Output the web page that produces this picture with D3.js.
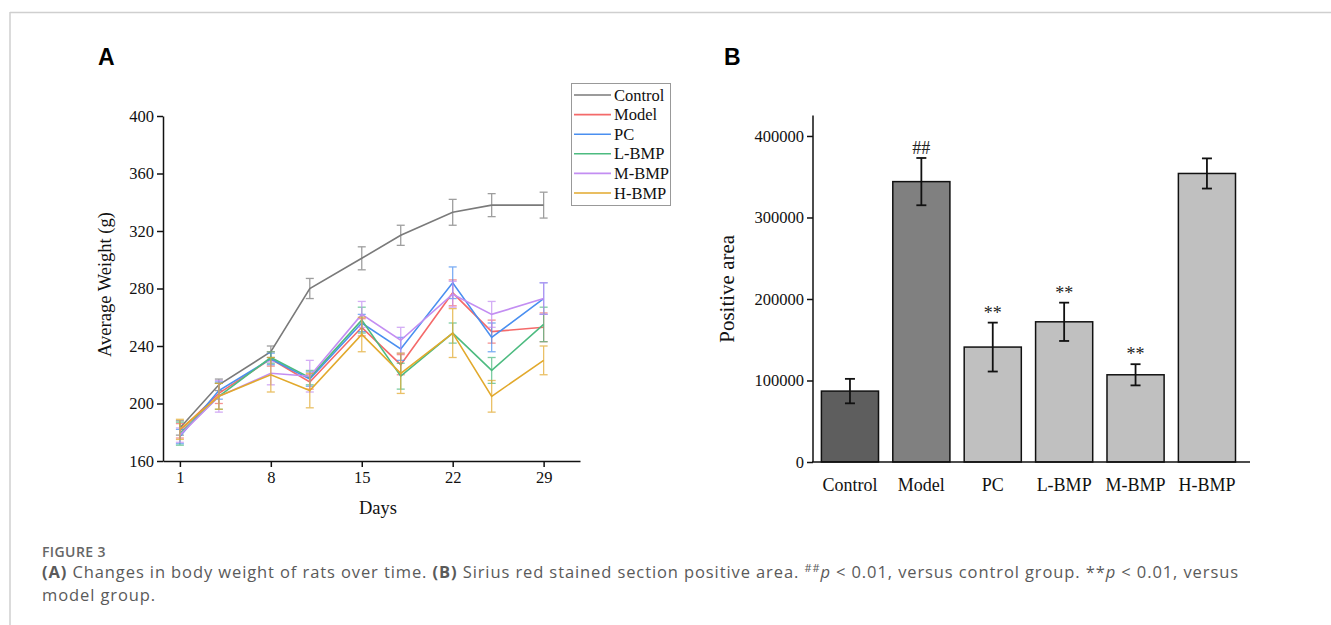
<!DOCTYPE html>
<html>
<head>
<meta charset="utf-8">
<script src="https://cdn.jsdelivr.net/npm/d3@7/dist/d3.min.js"></script>
<style>
  html, body { margin: 0; padding: 0; background: #fff; }
  svg { display: block; }
</style>
</head>
<body>
<svg id="fig" width="1331" height="625"></svg>
<script>
// ---------- Panel A: body weight over time ----------
const days = [1, 4, 8, 11, 15, 18, 22, 25, 29];
const dayTicks = [1, 8, 15, 22, 29];
const weightTicks = [160, 200, 240, 280, 320, 360, 400];

const groupNames = ["Control", "Model", "PC", "L-BMP", "M-BMP", "H-BMP"];
const groupColors = ["#7a7a7a", "#f46a6a", "#4a8ff0", "#4dbb80", "#c38ef2", "#e2a92c"];

const controlW = [183, 213, 236, 280, 301, 317, 333, 338, 338];
const controlE = [5, 4, 4, 7, 8, 7, 9, 8, 9];
const modelW   = [181, 207, 231, 215, 253, 227, 277, 250, 253];
const modelE   = [5, 7, 5, 5, 6, 7, 9, 8, 10];
const pcW      = [177, 209, 231, 217, 256, 238, 284, 246, 273];
const pcE      = [5, 6, 4, 5, 6, 8, 11, 10, 11];
const lbmpW    = [179, 205, 232, 218, 258, 219, 249, 223, 255];
const lbmpE    = [8, 9, 4, 5, 9, 9, 7, 9, 12];
const mbmpW    = [178, 205, 221, 219, 262, 244, 276, 262, 273];
const mbmpE    = [5, 11, 8, 11, 9, 9, 9, 9, 11];
const hbmpW    = [182, 205, 220, 209, 248, 221, 249, 205, 230];
const hbmpE    = [7, 9, 12, 12, 12, 14, 17, 11, 10];

const weightSeries = [controlW, modelW, pcW, lbmpW, mbmpW, hbmpW];
const weightErrors = [controlE, modelE, pcE, lbmpE, mbmpE, hbmpE];

// ---------- Panel B: Sirius red positive area ----------
const barGroups = ["Control", "Model", "PC", "L-BMP", "M-BMP", "H-BMP"];
const areaMeans = [87000, 344000, 141000, 172000, 107000, 354000];
const areaErrors = [15000, 29000, 30000, 23500, 13000, 18500];
const areaMarks = ["", "##", "**", "**", "**", ""];
const barFills = ["#5e5e5e", "#808080", "#c0c0c0", "#c0c0c0", "#c0c0c0", "#c0c0c0"];
const areaTicks = [0, 100000, 200000, 300000, 400000];

const svg = d3.select("#fig");
const serif = "'Liberation Serif', 'Times New Roman', serif";
const sans = "'Open Sans', 'Noto Sans', sans-serif";

svg.append("rect").attr("width", 1331).attr("height", 625).attr("fill", "#fff");

// figure frame (top rule and left rule)
svg.append("line").attr("x1", 10).attr("x2", 1331).attr("y1", 12.5).attr("y2", 12.5)
  .attr("stroke", "#cfcfcf").attr("stroke-width", 1.5);
svg.append("line").attr("x1", 10).attr("x2", 10).attr("y1", 12).attr("y2", 625)
  .attr("stroke", "#cfcfcf").attr("stroke-width", 1.5);

// panel letters
svg.append("text").attr("x", 98).attr("y", 65).text("A")
  .attr("font-family", "'Liberation Sans', Arial, sans-serif").attr("font-weight", "bold").attr("font-size", 23);
svg.append("text").attr("x", 724).attr("y", 65).text("B")
  .attr("font-family", "'Liberation Sans', Arial, sans-serif").attr("font-weight", "bold").attr("font-size", 23);

// ===== Panel A =====
const xA = d3.scaleLinear().domain([-0.3, 31.8]).range([163, 580]);
const yA = d3.scaleLinear().domain([160, 400]).range([461, 116]);

const gA = svg.append("g");

const axA_y = gA.append("g").attr("transform", `translate(${xA.range()[0]},0)`)
  .call(d3.axisLeft(yA).tickValues(weightTicks).tickSize(6).tickSizeOuter(0).tickPadding(3));
const axA_x = gA.append("g").attr("transform", `translate(0,${yA.range()[0]})`)
  .call(d3.axisBottom(xA).tickValues(dayTicks).tickSize(6).tickSizeOuter(0).tickPadding(4));
[axA_y, axA_x].forEach(a => {
  a.selectAll("path, line").attr("stroke", "#111").attr("stroke-width", 1.5);
  a.selectAll("text").attr("font-family", serif).attr("font-size", 16.5).attr("fill", "#111");
});

gA.append("text").attr("transform", `translate(111,${(yA(160) + yA(400)) / 2 - 4}) rotate(-90)`)
  .attr("text-anchor", "middle").attr("font-family", serif).attr("font-size", 18.5)
  .attr("fill", "#111").text("Average Weight (g)");
gA.append("text").attr("x", 378).attr("y", 514).attr("text-anchor", "middle")
  .attr("font-family", serif).attr("font-size", 18.5).attr("fill", "#111").text("Days");

const line = d3.line().x((d, i) => xA(days[i])).y(d => yA(d));
const capW = 4;

weightSeries.forEach((vals, s) => {
  const col = groupColors[s];
  const errs = weightErrors[s];
  const eg = gA.append("g").attr("stroke", col).attr("stroke-width", 1.3).attr("opacity", 0.72);
  vals.forEach((v, i) => {
    const x = xA(days[i]);
    eg.append("line").attr("x1", x).attr("x2", x).attr("y1", yA(v - errs[i])).attr("y2", yA(v + errs[i]));
    eg.append("line").attr("x1", x - capW).attr("x2", x + capW).attr("y1", yA(v - errs[i])).attr("y2", yA(v - errs[i]));
    eg.append("line").attr("x1", x - capW).attr("x2", x + capW).attr("y1", yA(v + errs[i])).attr("y2", yA(v + errs[i]));
  });
  gA.append("path").datum(vals).attr("d", line).attr("fill", "none")
    .attr("stroke", col).attr("stroke-width", 1.6);
});

// legend
const leg = gA.append("g");
leg.append("rect").attr("x", 571.5).attr("y", 83.5).attr("width", 99).attr("height", 122)
  .attr("fill", "#fff").attr("stroke", "#999").attr("stroke-width", 1);
groupNames.forEach((n, i) => {
  const y = 95 + i * 19.6;
  leg.append("line").attr("x1", 574).attr("x2", 611).attr("y1", y).attr("y2", y)
    .attr("stroke", groupColors[i]).attr("stroke-width", 1.6);
  leg.append("text").attr("x", 614).attr("y", y + 5.5).text(n)
    .attr("font-family", serif).attr("font-size", 16.5).attr("fill", "#111");
});

// ===== Panel B =====
const xB = d3.scaleBand().domain(barGroups).range([821.4, 1235.5]).paddingInner(0.2).paddingOuter(0);
const yB = d3.scaleLinear().domain([0, 425000]).range([462, 115.6]);
const gB = svg.append("g");

const bw = xB.bandwidth();
gB.selectAll("rect.bar").data(barGroups).enter().append("rect")
  .attr("x", d => xB(d)).attr("width", bw)
  .attr("y", (d, i) => yB(areaMeans[i]))
  .attr("height", (d, i) => yB(0) - yB(areaMeans[i]))
  .attr("fill", (d, i) => barFills[i]).attr("stroke", "#111").attr("stroke-width", 1.5);

barGroups.forEach((d, i) => {
  const cx = xB(d) + bw / 2;
  const lo = yB(areaMeans[i] - areaErrors[i]);
  const hi = yB(areaMeans[i] + areaErrors[i]);
  const eg = gB.append("g").attr("stroke", "#111").attr("stroke-width", 1.8);
  eg.append("line").attr("x1", cx).attr("x2", cx).attr("y1", lo).attr("y2", hi);
  eg.append("line").attr("x1", cx - 5).attr("x2", cx + 5).attr("y1", lo).attr("y2", lo);
  eg.append("line").attr("x1", cx - 5).attr("x2", cx + 5).attr("y1", hi).attr("y2", hi);
  if (areaMarks[i]) {
    gB.append("text").attr("x", cx).attr("y", hi - 4).attr("text-anchor", "middle")
      .attr("font-family", serif).attr("font-size", 18).attr("fill", "#222").text(areaMarks[i]);
  }
});

const axB_y = gB.append("g").attr("transform", "translate(813,0)")
  .call(d3.axisLeft(yB).tickValues(areaTicks).tickFormat(d3.format("d")).tickSize(6).tickSizeOuter(0).tickPadding(3));
axB_y.select("path.domain").attr("d", `M0,${yB(0)}V${yB.range()[1]}`);
axB_y.selectAll("path, line").attr("stroke", "#111").attr("stroke-width", 1.5);
axB_y.selectAll("text").attr("font-family", serif).attr("font-size", 16.5).attr("fill", "#111");

gB.append("line").attr("x1", 812).attr("x2", 1250).attr("y1", yB(0)).attr("y2", yB(0))
  .attr("stroke", "#111").attr("stroke-width", 1.5);

barGroups.forEach(d => {
  gB.append("text").attr("x", xB(d) + bw / 2).attr("y", 491).attr("text-anchor", "middle")
    .attr("font-family", serif).attr("font-size", 18).attr("fill", "#111").text(d);
});

gB.append("text").attr("transform", `translate(734,${(yB(0) + yB.range()[1]) / 2}) rotate(-90)`)
  .attr("text-anchor", "middle").attr("font-family", serif).attr("font-size", 21)
  .attr("fill", "#111").text("Positive area");

// ===== Caption =====
const cap = svg.append("g").attr("font-family", sans).attr("fill", "#5a5a5a");
cap.append("text").attr("x", 42).attr("y", 557).attr("font-size", 14).attr("font-weight", 600)
  .attr("letter-spacing", 0.4).attr("fill", "#666").text("FIGURE 3");

const l1 = cap.append("text").attr("x", 42).attr("y", 578).attr("font-size", 16.5)
  .attr("letter-spacing", 0.9);
l1.append("tspan").attr("font-weight", "bold").text("(A)");
l1.append("tspan").text(" Changes in body weight of rats over time. ");
l1.append("tspan").attr("font-weight", "bold").text("(B)");
l1.append("tspan").text(" Sirius red stained section positive area. ");
l1.append("tspan").attr("font-size", 11).attr("dy", -6).text("##");
l1.append("tspan").attr("font-style", "italic").attr("dy", 6).text("p");
l1.append("tspan").text(" < 0.01, versus control group. **");
l1.append("tspan").attr("font-style", "italic").text("p");
l1.append("tspan").text(" < 0.01, versus");

cap.append("text").attr("x", 42).attr("y", 601).attr("font-size", 16.5)
  .attr("letter-spacing", 0.9).text("model group.");
</script>
</body>
</html>
